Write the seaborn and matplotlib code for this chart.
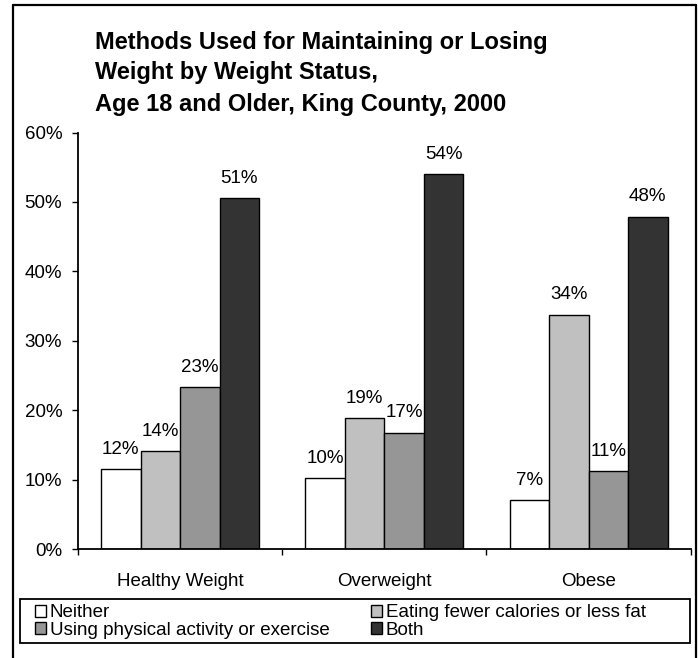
import matplotlib
matplotlib.use("Agg")
import matplotlib.pyplot as plt
from matplotlib.lines import Line2D
from matplotlib.patches import Patch, Rectangle
import seaborn as sns
import pandas as pd

# Weight status groups and the share using each method (percent)
statuses = ["Healthy Weight", "Overweight", "Obese"]
methods = ["Neither", "Eating fewer calories or less fat",
           "Using physical activity or exercise", "Both"]
neither = [11.6, 10.3, 7.1]
eating_less = [14.2, 18.9, 33.8]
activity = [23.4, 16.8, 11.2]
both = [50.6, 54.0, 47.9]
y_ticks = [0, 10, 20, 30, 40, 50, 60]

palette = ["#ffffff", "#c0c0c0", "#969696", "#333333"]

rows = []
for series_name, series in zip(methods, [neither, eating_less, activity, both]):
    for status, value in zip(statuses, series):
        rows.append({"status": status, "method": series_name, "pct": value})
df = pd.DataFrame(rows)

sns.set_theme(style="white")
plt.rcParams["font.family"] = ["Liberation Sans", "DejaVu Sans"]
plt.rcParams["text.color"] = "black"

FS = 13.5
W, H = 698, 658
fig = plt.figure(figsize=(W / 100, H / 100), dpi=100)
fig.patch.set_facecolor("white")

# plot area placed in pixel terms
left, right, bottom, top = 78, 690.7, 549.3, 132.5
ax = fig.add_axes([left / W, 1 - bottom / H, (right - left) / W, (bottom - top) / H])

sns.barplot(data=df, x="status", y="pct", hue="method", order=statuses,
            hue_order=methods, palette=palette, width=0.774, gap=0,
            edgecolor="black", linewidth=1.0, saturation=1, legend=False, ax=ax)

ax.set_xlim(-0.5, 2.5)
ax.set_ylim(0, 60)
ax.set_yticks(y_ticks)
ax.set_yticklabels([f"{t}%" for t in y_ticks])
ax.set_xlabel("")
ax.set_ylabel("")

for side in ["top", "right"]:
    ax.spines[side].set_visible(False)
for side in ["left", "bottom"]:
    ax.spines[side].set_color("black")
    ax.spines[side].set_linewidth(1.3)

ax.tick_params(axis="y", which="major", direction="out", length=4.3, width=1.0,
               color="black", pad=7, labelsize=FS, labelcolor="black", left=True)
ax.tick_params(axis="x", which="major", length=0, pad=17, labelsize=FS,
               labelcolor="black")
ax.set_xticks([-0.5, 0.5, 1.5, 2.5], minor=True)
ax.tick_params(axis="x", which="minor", direction="out", length=4.3, width=1.0,
               color="black", bottom=True)

# value labels above each bar
for container in ax.containers:
    ax.bar_label(container, labels=[f"{round(b.get_height()):.0f}%" for b in container],
                 padding=8, fontsize=FS, color="black")

# title block
title_lines = ["Methods Used for Maintaining or Losing",
               "Weight by Weight Status,",
               "Age 18 and Older, King County, 2000"]
for line, yc in zip(title_lines, [43, 73, 104]):
    fig.text(95 / W, 1 - yc / H, line, fontsize=17, fontweight="bold",
             color="black", ha="left", va="center")

# legend: box plus two columns of entries
fig.add_artist(Rectangle((20 / W, 1 - 643 / H), 670 / W, 44 / H,
                         transform=fig.transFigure, facecolor="none",
                         edgecolor="black", linewidth=1.3))
handles = [Patch(facecolor=c, edgecolor="black", linewidth=1.0) for c in palette]
legend_kw = dict(loc="center left", fontsize=FS, frameon=False,
                 handlelength=0.62, handleheight=0.62, handletextpad=0.2,
                 labelspacing=0.02, borderpad=0, borderaxespad=0)
fig.legend([handles[0], handles[2]], [methods[0], methods[2]],
           bbox_to_anchor=(34.5 / W, 1 - 621.5 / H), **legend_kw)
fig.legend([handles[1], handles[3]], [methods[1], methods[3]],
           bbox_to_anchor=(370.5 / W, 1 - 621.5 / H), **legend_kw)

# outer frame on left, top and right
for xs, ys in [([13, 13], [4.5, H + 5]), ([13, 696], [4.5, 4.5]), ([696, 696], [4.5, H + 5])]:
    fig.add_artist(Line2D([x / W for x in xs], [1 - y / H for y in ys],
                          color="black", linewidth=1.6, transform=fig.transFigure))

fig.savefig("out.png", dpi=100, facecolor="white")
